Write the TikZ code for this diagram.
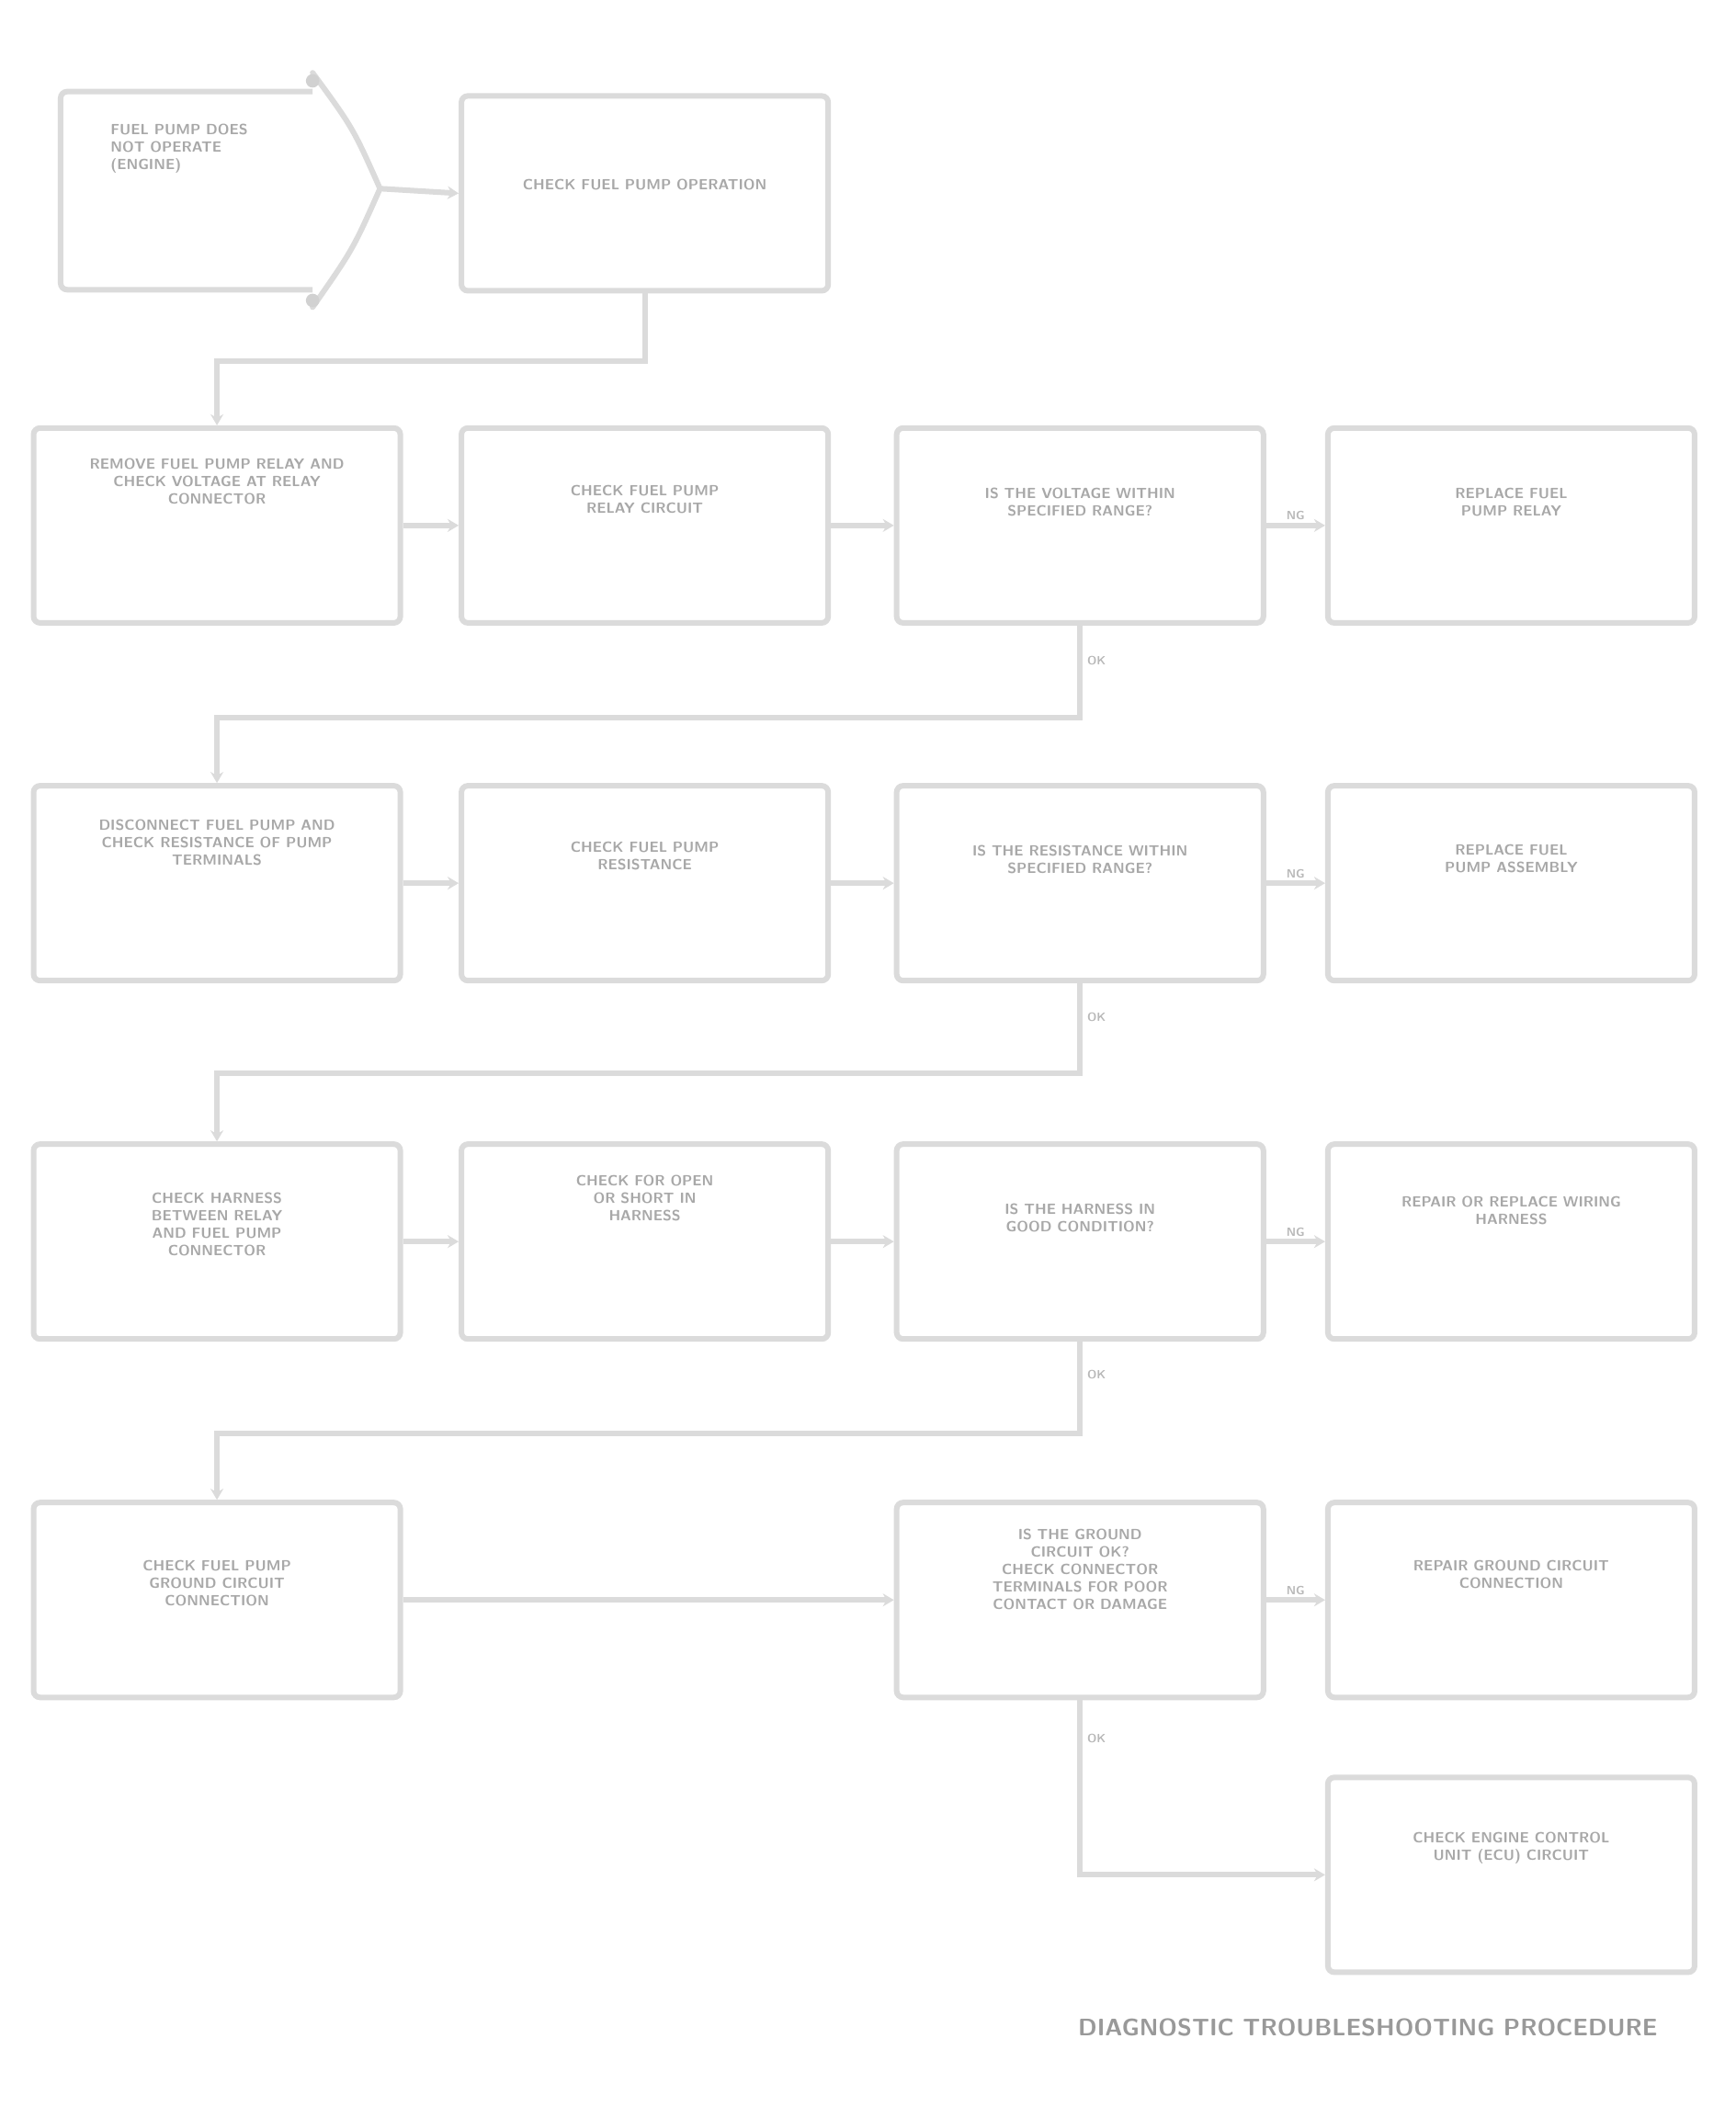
\documentclass[tikz,border=0pt]{standalone}
\usetikzlibrary{arrows.meta}
\begin{document}
\begin{tikzpicture}[x=1.466pt,y=-1.466pt,
  box/.style={draw=black!14, line width=6pt, rounded corners=7pt, fill=white,
              minimum width=399pt, minimum height=212pt, inner sep=0pt},
  txt/.style={text=black!34, font=\sffamily\bfseries\fontsize{16}{19}\selectfont, align=center, anchor=north, inner sep=0pt},
  conn/.style={draw=black!14, line width=6pt, -{Stealth[length=12pt,width=14pt]}},
  lbl/.style={text=black!28, font=\sffamily\bfseries\fontsize{13}{13}\selectfont, inner sep=1pt},
  captext/.style={text=black!40, font=\sffamily\bfseries\fontsize{26}{28}\selectfont, inner sep=0pt}]
\useasboundingbox[fill=white] (0,0) rectangle (1288,1572);

% start shape
\draw[draw=black!14, line width=6pt, rounded corners=7pt] (232,68) -- (45,68) -- (45,215) -- (232,215);
\draw[draw=black!14, line width=6pt, line cap=round, line join=round] (232,54) .. controls (262,95) .. (282,140) .. controls (262,185) .. (232,228);
\fill[black!18] (232,60) circle (5);
\fill[black!18] (232,223) circle (5);
\coordinate (st) at (282,140);
\node[txt, anchor=north west, align=left] (tst) at (82,92) {FUEL PUMP DOES\\NOT OPERATE\\(ENGINE)};

% row A
\node[box] (a1) at (478.5,143.5) {};
\node[txt] (ta1) at (478.5,133) {CHECK FUEL PUMP OPERATION};

% row B
\node[box] (b1) at (161,390) {};
\node[box] (b2) at (478.5,390) {};
\node[box] (b3) at (801.5,390) {};
\node[box] (b4) at (1121.5,390) {};
\node[txt] (tb1) at (161,340) {REMOVE FUEL PUMP RELAY AND\\CHECK VOLTAGE AT RELAY\\CONNECTOR};
\node[txt] (tb2) at (478.5,360) {CHECK FUEL PUMP\\RELAY CIRCUIT};
\node[txt] (tb3) at (801.5,362) {IS THE VOLTAGE WITHIN\\SPECIFIED RANGE?};
\node[txt] (tb4) at (1121.5,362) {REPLACE FUEL\\PUMP RELAY};

% row C
\node[box] (c1) at (161,655.5) {};
\node[box] (c2) at (478.5,655.5) {};
\node[box] (c3) at (801.5,655.5) {};
\node[box] (c4) at (1121.5,655.5) {};
\node[txt] (tc1) at (161,608) {DISCONNECT FUEL PUMP AND\\CHECK RESISTANCE OF PUMP\\TERMINALS};
\node[txt] (tc2) at (478.5,625) {CHECK FUEL PUMP\\RESISTANCE};
\node[txt] (tc3) at (801.5,627) {IS THE RESISTANCE WITHIN\\SPECIFIED RANGE?};
\node[txt] (tc4) at (1121.5,627) {REPLACE FUEL\\PUMP ASSEMBLY};

% row D
\node[box] (d1) at (161,921.5) {};
\node[box] (d2) at (478.5,921.5) {};
\node[box] (d3) at (801.5,921.5) {};
\node[box] (d4) at (1121.5,921.5) {};
\node[txt] (td1) at (161,885) {CHECK HARNESS\\BETWEEN RELAY\\AND FUEL PUMP\\CONNECTOR};
\node[txt] (td2) at (478.5,872) {CHECK FOR OPEN\\OR SHORT IN\\HARNESS};
\node[txt] (td3) at (801.5,893) {IS THE HARNESS IN\\GOOD CONDITION?};
\node[txt] (td4) at (1121.5,888) {REPAIR OR REPLACE WIRING\\HARNESS};

% row E
\node[box] (e1) at (161,1187.5) {};
\node[box] (e3) at (801.5,1187.5) {};
\node[box] (e4) at (1121.5,1187.5) {};
\node[txt] (te1) at (161,1158) {CHECK FUEL PUMP\\GROUND CIRCUIT\\CONNECTION};
\node[txt] (te3) at (801.5,1135) {IS THE GROUND\\CIRCUIT OK?\\CHECK CONNECTOR\\TERMINALS FOR POOR\\CONTACT OR DAMAGE};
\node[txt] (te4) at (1121.5,1158) {REPAIR GROUND CIRCUIT\\CONNECTION};

% row F
\node[box] (f4) at (1121.5,1391.5) {};
\node[txt] (tf4) at (1121.5,1360) {CHECK ENGINE CONTROL\\UNIT (ECU) CIRCUIT};

% connectors
\draw[conn] (st) -- (a1.west);
\draw[conn] (a1.south) -- ++(0,50) -| (b1.north);
\draw[conn] (b1.east) -- (b2.west);
\draw[conn] (b2.east) -- (b3.west);
\draw[conn] (b3.east) -- node[lbl, above=2pt] (nb) {NG} (b4.west);
\draw[conn] (b3.south) -- ++(0,68) -| (c1.north);
\draw[conn] (c1.east) -- (c2.west);
\draw[conn] (c2.east) -- (c3.west);
\draw[conn] (c3.east) -- node[lbl, above=2pt] (nc) {NG} (c4.west);
\draw[conn] (c3.south) -- ++(0,67) -| (d1.north);
\draw[conn] (d1.east) -- (d2.west);
\draw[conn] (d2.east) -- (d3.west);
\draw[conn] (d3.east) -- node[lbl, above=2pt] (nd) {NG} (d4.west);
\draw[conn] (d3.south) -- ++(0,68) -| (e1.north);
\draw[conn] (e1.east) -- (e3.west);
\draw[conn] (e3.east) -- node[lbl, above=2pt] (ne) {NG} (e4.west);
\draw[conn] (e3.south) |- (f4.west);

% OK labels
\node[lbl, anchor=west] (ob) at (806,490) {OK};
\node[lbl, anchor=west] (oc) at (806,755) {OK};
\node[lbl, anchor=west] (od) at (806,1020) {OK};
\node[lbl, anchor=west] (oe) at (806,1290) {OK};

% caption
\node[captext, anchor=west] (caption) at (800,1505) {DIAGNOSTIC TROUBLESHOOTING PROCEDURE};
\end{tikzpicture}
\end{document}
